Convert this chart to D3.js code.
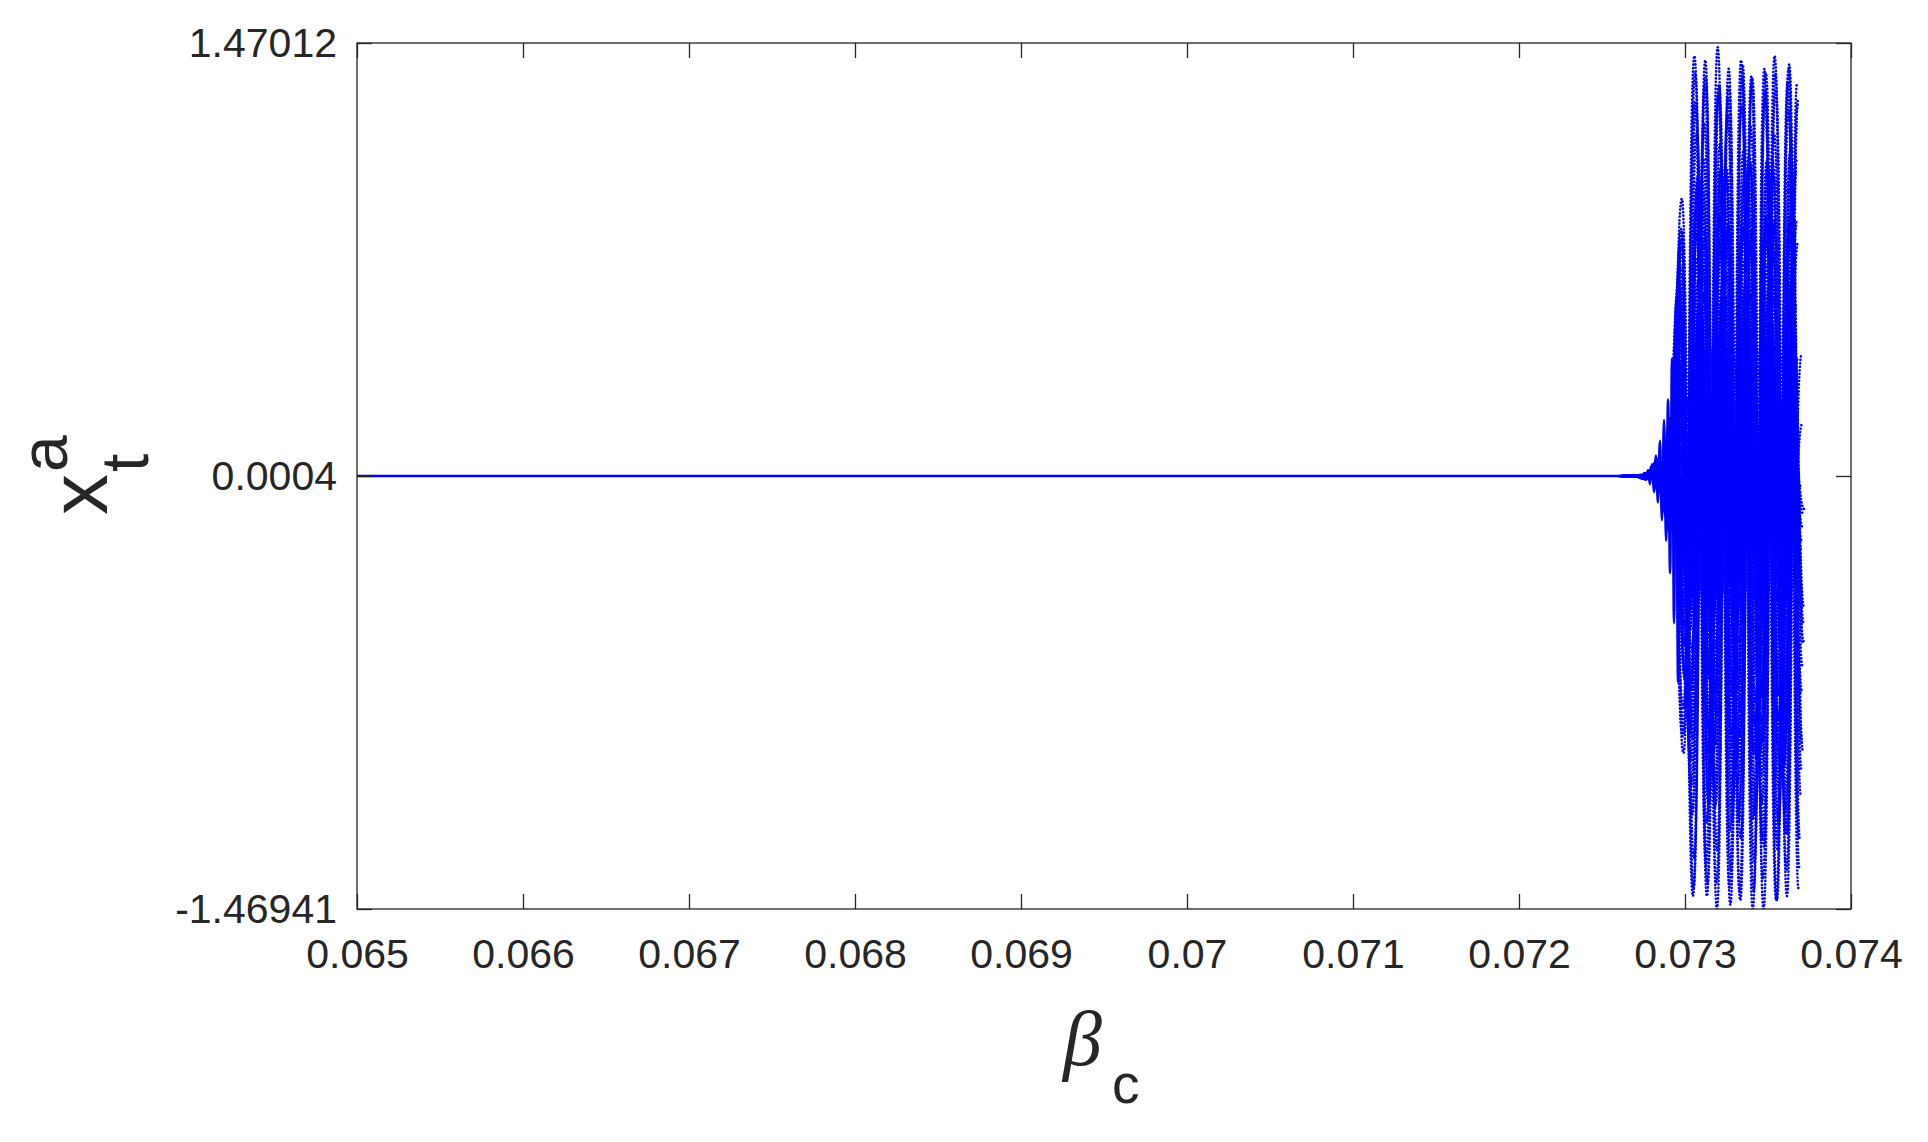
<!DOCTYPE html>
<html>
<head>
<meta charset="utf-8">
<script src="https://cdn.jsdelivr.net/npm/d3@7"></script>
<style>
  body { margin: 0; background: #ffffff; }
  svg { display: block; }
</style>
</head>
<body>
<svg id="chart" width="1928" height="1142"></svg>
<script>
// ---------------- data ----------------
const xTickValues = [0.065, 0.066, 0.067, 0.068, 0.069, 0.07, 0.071, 0.072, 0.073, 0.074];
const xTickLabels = ["0.065", "0.066", "0.067", "0.068", "0.069", "0.07", "0.071", "0.072", "0.073", "0.074"];
const yTickValues = [-1.46941, 0.0004, 1.47012];
const yTickLabels = ["-1.46941", "0.0004", "1.47012"];

// flat (stable) part of x_t^a before the onset of oscillation
const baseBeta  = [0.065, 0.072705];
const baseValue = [0.0004, 0.0004];

// onset: successive fast extrema while the oscillation grows (dense, looks solid)
const onsetBeta = [0.072705, 0.072717, 0.072729, 0.072741, 0.072753, 0.072765, 0.072777,
                   0.072789, 0.072801, 0.072813, 0.072825, 0.072837, 0.072849, 0.072861,
                   0.072874, 0.072886, 0.072898, 0.072910, 0.072922, 0.072934, 0.072946,
                   0.072958, 0.072970];
const onsetAmp  = [0.002, 0.003, 0.004, 0.006, 0.009, 0.013, 0.020, 0.028, 0.040, 0.055,
                   0.070, 0.090, 0.120, 0.150, 0.190, 0.220, 0.260, 0.330, 0.400, 0.500,
                   0.600, 0.700, 0.780];

// positions of successive oscillation extrema along beta_c
const peakBeta = [0.072635, 0.072705, 0.072775, 0.072846, 0.072916, 0.072986, 0.073057,
                  0.073127, 0.073197, 0.073268, 0.073338, 0.073408, 0.073478, 0.073549,
                  0.073619, 0.073684];
// envelope (largest |x_t^a|) at each extremum
const peakEnvelope = [0.001, 0.003, 0.012, 0.06, 0.20, 0.95, 1.47, 1.47, 1.47, 1.47,
                      1.47, 1.47, 1.47, 1.47, 1.47, 1.40];
// per-extremum variation of the tips
const peakJitter = [1.0, 0.94, 0.98, 0.91, 1.0, 0.93, 0.97, 0.90, 0.99, 0.95, 0.96];

// relative amplitude, phase and beta offset (in 1e-6 units) of each plotted trajectory
const lineAmplitude = [1.0, 1.0, 0.99, 0.97, 0.95, 0.92, 0.88, 0.84,
                       0.80, 0.78, 0.76, 0.74, 0.72, 0.70, 0.68, 0.66, 0.64, 0.62,
                       0.60, 0.58, 0.56, 0.54, 0.52, 0.50, 0.48, 0.46, 0.44, 0.42,
                       0.40, 0.39, 0.37, 0.36, 0.34, 0.33, 0.31, 0.30, 0.28, 0.27,
                       0.25, 0.24, 0.22, 0.21, 0.19, 0.18, 0.16, 0.15, 0.13, 0.12,
                       0.10, 0.09, 0.08, 0.07, 0.06, 0.05, 0.045, 0.04, 0.035, 0.03,
                       0.025, 0.02, 0.30, 0.20, 0.14, 0.11];
const linePhase = [0, 1, 0, 1, 0, 1, 0, 1, 0, 1, 0, 1, 0, 1, 0, 1, 0, 1, 0, 1, 0, 1,
                   0, 1, 0, 1, 0, 1, 0, 1, 0, 1, 0, 1, 0, 1, 0, 1, 0, 1, 0, 1, 0, 1,
                   0, 1, 0, 1, 0, 1, 0, 1, 0, 1, 0, 1, 0, 1, 0, 1, 1, 0, 1, 0];
const lineShiftMicro = [0, -5, 5, -9, 9, -3, 3, -12,
                        14, -16, 18, -20, 22, -24, 26, -28, 8, -10, 12, -6, 16, -18, 20, -22, 24, -26, 28, -14,
                        30, -30, 32, -32, 34, -34, 2, -2, 6, -6, 10, -10, 14, -14, 18, -18, 22, -22,
                        26, -26, 30, -30, 34, -34, 4, -4, 8, -8, 12, -12, 16, -16, 20, -20, 24, -24];

// ---------------- layout ----------------
const W = 1928, H = 1142;
const plot = { left: 357, right: 1851, top: 43, bottom: 909 };
const axisColor = "#262626";
const blue = "#0000ff";

const svg = d3.select("#chart");
svg.append("rect").attr("width", W).attr("height", H).attr("fill", "#ffffff");

const x = d3.scaleLinear().domain([0.065, 0.074]).range([plot.left, plot.right]);
const y = d3.scaleLinear().domain([-1.46941, 1.47012]).range([plot.bottom, plot.top]);

svg.append("defs").append("clipPath").attr("id", "clip")
  .append("rect")
  .attr("x", plot.left).attr("y", plot.top)
  .attr("width", plot.right - plot.left).attr("height", plot.bottom - plot.top);

const dataG = svg.append("g").attr("clip-path", "url(#clip)");

// flat part
const lineGen = d3.line().x(d => x(d[0])).y(d => y(d[1]));
dataG.append("path")
  .datum(baseBeta.map((b, i) => [b, baseValue[i]]))
  .attr("d", lineGen)
  .attr("fill", "none")
  .attr("stroke", blue)
  .attr("stroke-width", 2.5);

const bump = d3.line().x(d => x(d[0])).y(d => y(d[1])).curve(d3.curveBumpX);

// onset (dense, renders solid)
dataG.append("path")
  .datum(onsetBeta.map((b, i) => [b, baseValue[0] + (i % 2 === 0 ? 1 : -1) * onsetAmp[i]]))
  .attr("d", bump)
  .attr("fill", "none")
  .attr("stroke", blue)
  .attr("stroke-width", 2.4);

// oscillating trajectories (dotted, like MATLAB ':')
const lines = lineAmplitude.map((amp, i) => peakBeta.map((b, k) => {
  const sign = ((k + linePhase[i]) % 2 === 0) ? 1 : -1;
  const a = Math.min(amp * peakEnvelope[k] * peakJitter[(k + 3 * i) % peakJitter.length], 1.4694);
  return [b + lineShiftMicro[i] * 1e-6, baseValue[0] + sign * a];
}));

dataG.selectAll("path.osc")
  .data(lines)
  .join("path")
  .attr("class", "osc")
  .attr("d", bump)
  .attr("fill", "none")
  .attr("stroke", blue)
  .attr("stroke-width", 2.6)
  .attr("stroke-linecap", "round")
  .attr("stroke-dasharray", "0.1 3.4")
  .attr("stroke-dashoffset", (d, i) => (i * 0.53) % 3.5);

// ---------------- axes ----------------
function styleAxis(g, withText) {
  g.select(".domain").remove();
  g.selectAll(".tick line").attr("stroke", axisColor).attr("stroke-width", 1.3);
  g.selectAll(".tick text")
    .attr("fill", axisColor)
    .attr("font-family", "'Liberation Sans', Arial, sans-serif")
    .attr("font-size", 41);
  if (!withText) g.selectAll(".tick text").remove();
}

svg.append("g").attr("transform", `translate(0,${plot.bottom})`)
  .call(d3.axisBottom(x).tickValues(xTickValues).tickFormat((d, i) => xTickLabels[i])
    .tickSizeInner(-15).tickSizeOuter(0).tickPadding(30))
  .call(g => styleAxis(g, true));

svg.append("g").attr("transform", `translate(0,${plot.top})`)
  .call(d3.axisTop(x).tickValues(xTickValues).tickSizeInner(-15).tickSizeOuter(0))
  .call(g => styleAxis(g, false));

svg.append("g").attr("transform", `translate(${plot.left},0)`)
  .call(d3.axisLeft(y).tickValues(yTickValues).tickFormat((d, i) => yTickLabels[i])
    .tickSizeInner(-15).tickSizeOuter(0).tickPadding(20))
  .call(g => styleAxis(g, true));

svg.append("g").attr("transform", `translate(${plot.right},0)`)
  .call(d3.axisRight(y).tickValues(yTickValues).tickSizeInner(-15).tickSizeOuter(0))
  .call(g => styleAxis(g, false));

// box
svg.append("rect")
  .attr("x", plot.left).attr("y", plot.top)
  .attr("width", plot.right - plot.left).attr("height", plot.bottom - plot.top)
  .attr("fill", "none").attr("stroke", axisColor).attr("stroke-width", 1.3);

// ---------------- axis labels ----------------
const xl = svg.append("g").attr("fill", axisColor);
xl.append("text")
  .attr("x", 1063).attr("y", 1065)
  .attr("font-family", "'Liberation Serif', 'Times New Roman', serif")
  .attr("font-style", "italic")
  .attr("font-size", 78)
  .text("β");
xl.append("text")
  .attr("x", 1112).attr("y", 1103)
  .attr("font-family", "'Liberation Sans', Arial, sans-serif")
  .attr("font-size", 55)
  .text("c");

const yl = svg.append("g").attr("fill", axisColor)
  .attr("transform", "translate(107,515) rotate(-90)")
  .attr("font-family", "'Liberation Sans', Arial, sans-serif");
yl.append("text").attr("x", 0).attr("y", 0).attr("font-size", 82).text("x");
yl.append("text").attr("x", 43).attr("y", -40).attr("font-size", 66).text("a");
yl.append("text").attr("x", 43).attr("y", 41).attr("font-size", 66).text("t");
</script>
</body>
</html>
